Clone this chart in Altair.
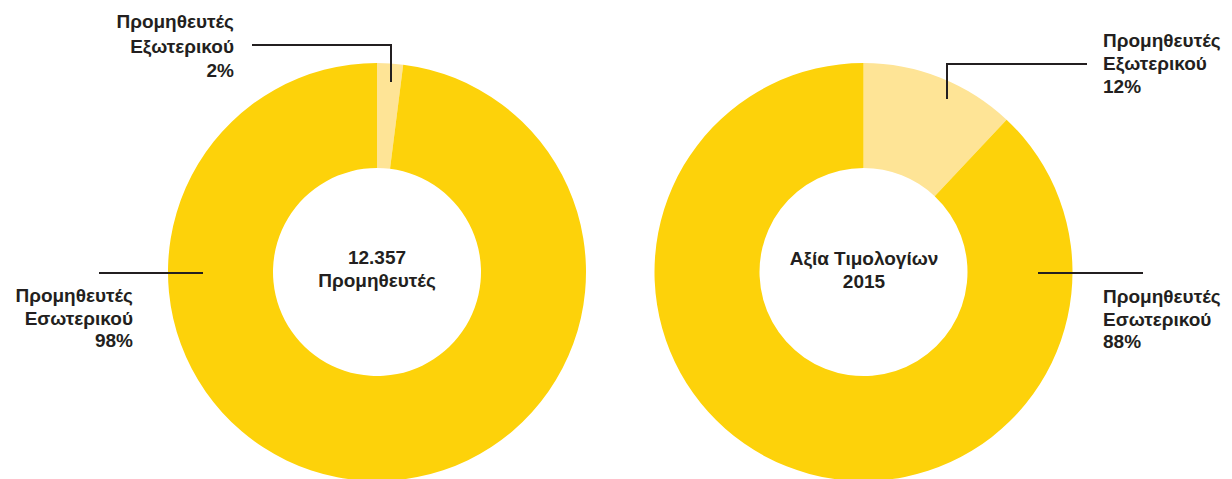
import altair as alt
import pandas as pd

# ---- data ----
categories = ["Προμηθευτές Εξωτερικού", "Προμηθευτές Εσωτερικού"]
suppliers_pct = [2, 98]          # share of number of suppliers
invoices_pct = [12, 88]          # share of invoice value 2015
center_left = ["12.357", "Προμηθευτές"]
center_right = ["Αξία Τιμολογίων", "2015"]

colors = ["#FEE496", "#FDD20A"]
DARK = "#231f20"
FONT = "Liberation Sans"
FS = 19
FS_C = 19

rows = []
for chart_id, vals in (("left", suppliers_pct), ("right", invoices_pct)):
    for i, (c, v) in enumerate(zip(categories, vals)):
        rows.append({
            "chart": chart_id,
            "category": c,
            "value": v,
            "order": i,
            "label": "\n".join(c.split(" ")) + f"\n{v}%",
        })
df = pd.DataFrame(rows)

color_scale = alt.Scale(domain=categories, range=colors)


def donut(chart_id, cx, cy):
    return alt.Chart(df).transform_filter(
        alt.datum.chart == chart_id
    ).mark_arc(outerRadius=209, innerRadius=104, stroke=None).encode(
        theta=alt.Theta("value:Q", stack=True),
        color=alt.Color("category:N", scale=color_scale, legend=None),
        order=alt.Order("order:Q"),
        x=alt.value(cx),
        y=alt.value(cy),
    )


def label(chart_id, category, x, y, align, lh):
    return alt.Chart(df).transform_filter(
        (alt.datum.chart == chart_id) & (alt.datum.category == category)
    ).mark_text(
        align=align, baseline="middle", lineBreak="\n", lineHeight=lh,
        font=FONT, fontSize=FS, fontWeight="bold", color=DARK,
    ).encode(text="label:N", x=alt.value(x), y=alt.value(y))


def center_text(lines, x, y):
    d = pd.DataFrame({"t": ["\n".join(lines)]})
    return alt.Chart(d).mark_text(
        align="center", baseline="middle", lineBreak="\n", lineHeight=23,
        font=FONT, fontSize=FS_C, fontWeight="bold", color=DARK,
    ).encode(text="t:N", x=alt.value(x), y=alt.value(y))


def rule(x1, y1, x2, y2):
    d = pd.DataFrame({"k": [0]})
    return alt.Chart(d).mark_rule(color=DARK, strokeWidth=2).encode(
        x=alt.value(x1), y=alt.value(y1), x2=alt.value(x2), y2=alt.value(y2)
    )


layers = [
    donut("left", 369, 264),
    donut("right", 855.5, 264),
    # leader lines
    rule(244, 37, 384, 37),
    rule(383, 36, 383, 74),
    rule(91, 265, 195, 265),
    rule(938, 56, 1079, 56),
    rule(939, 55, 939, 91),
    rule(1030, 265, 1135, 265),
    # labels
    label("left", categories[0], 226, 14, "right", 24.5),
    label("left", categories[1], 125, 288, "right", 22.5),
    label("right", categories[0], 1095, 33, "left", 23),
    label("right", categories[1], 1095, 289, "left", 22.5),
    center_text(center_left, 369, 250),
    center_text(center_right, 856, 251),
]

chart = alt.layer(*layers).resolve_scale(theta="independent").properties(
    width=1216, height=471, padding=0, autosize="none"
).configure_view(stroke=None)

chart.save("out.html", embed_options={"renderer": "svg", "actions": False})
